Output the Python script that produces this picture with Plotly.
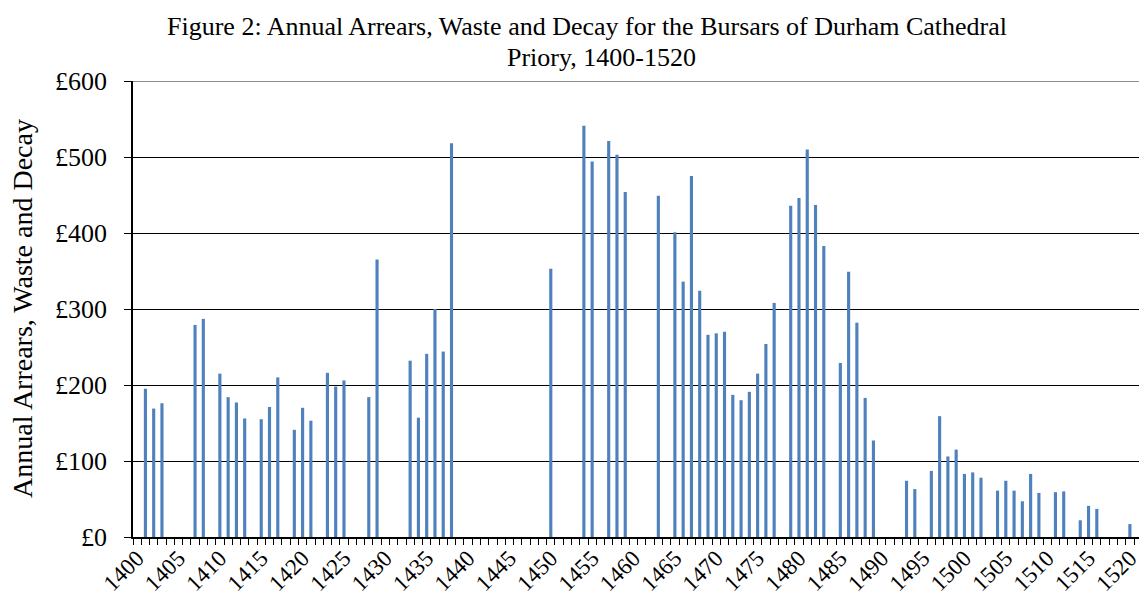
import plotly.graph_objects as go

years = [1401, 1402, 1403, 1407, 1408, 1410, 1411, 1412, 1413, 1415, 1416, 1417,
         1419, 1420, 1421, 1423, 1424, 1425, 1428, 1429, 1433, 1434, 1435, 1436,
         1437, 1438, 1450, 1454, 1455, 1457, 1458, 1459, 1463, 1465, 1466, 1467,
         1468, 1469, 1470, 1471, 1472, 1473, 1474, 1475, 1476, 1477, 1479, 1480,
         1481, 1482, 1483, 1485, 1486, 1487, 1488, 1489, 1493, 1494, 1496, 1497,
         1498, 1499, 1500, 1501, 1502, 1504, 1505, 1506, 1507, 1508, 1509, 1511,
         1512, 1514, 1515, 1516, 1520]
arrears = [195, 169, 176, 279, 287, 215, 184, 177, 156, 155, 171, 210,
           141, 170, 153, 216, 198, 206, 184, 365, 232, 157, 241, 300,
           244, 518, 353, 541, 494, 521, 503, 454, 449, 401, 336, 475,
           324, 266, 268, 270, 187, 180, 191, 215, 254, 308, 436, 446,
           510, 437, 383, 229, 349, 282, 183, 127, 74, 63, 87, 159,
           106, 115, 83, 85, 78, 61, 74, 61, 47, 83, 58, 59,
           60, 22, 41, 37, 17]

x_tick_vals = list(range(1400, 1521, 5))
x_tick_text = [str(v) for v in x_tick_vals]
y_tick_vals = [0, 100, 200, 300, 400, 500, 600]
y_tick_text = ["£0", "£100", "£200", "£300", "£400", "£500", "£600"]

title_line1 = "Figure 2: Annual Arrears, Waste and Decay for the Bursars of Durham Cathedral"
title_line2 = "Priory, 1400-1520"
y_title = "Annual Arrears, Waste and Decay"

FONT = "Liberation Serif, Times New Roman, serif"

# page body has an 8px margin on every side, so the figure fits inside it
W, H = 1131, 590
L, T, B, R = 125, 73, 61, 0
PW, PH = W - L - R, H - T - B

fig = go.Figure()
fig.add_trace(go.Bar(
    x=years, y=arrears, width=0.38,
    marker=dict(color="#4F81BD", line=dict(width=0)),
    hovertemplate="%{x}: £%{y}<extra></extra>",
))

fig.update_layout(
    width=W, height=H,
    paper_bgcolor="white", plot_bgcolor="white",
    margin=dict(l=L, r=R, t=T, b=B, autoexpand=False),
    showlegend=False,
    font=dict(family=FONT, color="black", size=22),
    annotations=[
        dict(text=title_line1, xref="paper", yref="paper",
             x=(587 - 133) / PW, y=1 + (81 - 27) / PH,
             xanchor="center", yanchor="middle", showarrow=False,
             font=dict(family=FONT, size=26, color="black")),
        dict(text=title_line2, xref="paper", yref="paper",
             x=(601 - 133) / PW, y=1 + (81 - 57) / PH,
             xanchor="center", yanchor="middle", showarrow=False,
             font=dict(family=FONT, size=26, color="black")),
        dict(text=y_title, xref="paper", yref="paper",
             x=-(133 - 22) / PW, y=0.5, textangle=-90,
             xanchor="center", yanchor="middle", showarrow=False,
             font=dict(family=FONT, size=28, color="black")),
    ],
    shapes=[
        dict(type="line", xref="paper", yref="y", x0=0, x1=1, y0=600, y1=600,
             line=dict(color="#8c8c8c", width=2)),
    ],
)

fig.update_xaxes(
    range=[1399.5, 1521.1], automargin=False,
    tickmode="array", tickvals=x_tick_vals, ticktext=x_tick_text,
    tickangle=-45, ticks="", showgrid=False, zeroline=False,
    showline=True, linecolor="black", linewidth=1.5,
    tickfont=dict(family=FONT, size=23, color="black"),
    ticklabelstandoff=-3, ticklabeloverflow="allow",
    minor=dict(tick0=1399.5, dtick=1, ticks="outside", ticklen=6,
               tickcolor="black", tickwidth=1, showgrid=False),
)

fig.update_yaxes(
    range=[0, 600], automargin=False,
    tickmode="array", tickvals=y_tick_vals, ticktext=y_tick_text,
    ticks="outside", ticklen=7, tickcolor="black", tickwidth=1,
    showgrid=True, gridcolor="black", gridwidth=1,
    zeroline=False,
    showline=True, linecolor="black", linewidth=1.5,
    tickfont=dict(family=FONT, size=26, color="black"),
    ticklabelstandoff=12,
)

fig.write_html("out.html")
